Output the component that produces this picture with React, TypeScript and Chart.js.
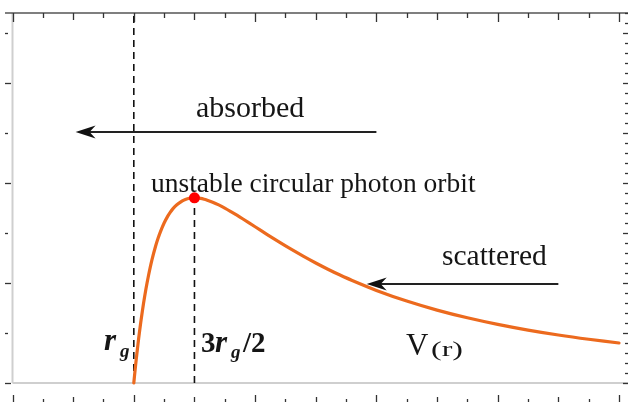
import { useEffect, useRef } from "react";
import { Chart, registerables } from "chart.js";

Chart.register(...registerables);

// r in units of r_g, V(r) in arbitrary units
const rValues = [1.0, 1.01, 1.02, 1.03, 1.04, 1.05, 1.06, 1.08, 1.1, 1.12, 1.15, 1.18, 1.2, 1.22, 1.25, 1.28, 1.3, 1.32, 1.35, 1.4, 1.42, 1.45, 1.48, 1.5, 1.52, 1.55, 1.58, 1.6, 1.65, 1.7, 1.75, 1.8, 1.85, 1.9, 2.0, 2.1, 2.2, 2.3, 2.4, 2.5, 2.6, 2.7, 2.8, 3.0, 3.25, 3.5, 3.75, 4.0, 4.25, 4.5, 4.75, 5.0];
const vValues = [0, 0.243, 0.471, 0.686, 0.889, 1.08, 1.259, 1.588, 1.878, 2.135, 2.466, 2.739, 2.894, 3.029, 3.2, 3.338, 3.414, 3.478, 3.556, 3.644, 3.667, 3.69, 3.702, 3.704, 3.702, 3.692, 3.676, 3.662, 3.617, 3.562, 3.499, 3.429, 3.356, 3.28, 3.125, 2.969, 2.817, 2.671, 2.532, 2.4, 2.276, 2.159, 2.05, 1.852, 1.639, 1.458, 1.304, 1.172, 1.058, 0.96, 0.875, 0.8];

const horizonR = 1.0;
const photonR = 1.5;
const photonV = 3.704;
const frameTopV = 7.4;

const absorbedArrow = { fromR: 3.0, toR: 0.52, v: 5.02 };
const scatteredArrow = { fromR: 4.5, toR: 2.92, v: 1.98 };

const xTickValues = [0, 0.25, 0.5, 0.75, 1, 1.25, 1.5, 1.75, 2, 2.25, 2.5, 2.75, 3, 3.25, 3.5, 3.75, 4, 4.25, 4.5, 4.75, 5];
const yTickValues = [0, 1, 2, 3, 4, 5, 6, 7];
const yFineTickValues = [0, 0.2, 0.4, 0.6, 0.8, 1, 1.2, 1.4, 1.6, 1.8, 2, 2.2, 2.4, 2.6, 2.8, 3, 3.2, 3.4, 3.6, 3.8, 4, 4.2, 4.4, 4.6, 4.8, 5, 5.2, 5.4, 5.6, 5.8, 6, 6.2, 6.4, 6.6, 6.8, 7, 7.2, 7.4];

const ORANGE = "#EC6A1E";
const SERIF = '"Liberation Serif", "Times New Roman", serif';

function drawArrow(ctx: CanvasRenderingContext2D, x1: number, y: number, x2: number) {
  ctx.save();
  ctx.strokeStyle = "#222";
  ctx.fillStyle = "#111";
  ctx.lineWidth = 1.8;
  ctx.beginPath();
  ctx.moveTo(x1, y);
  ctx.lineTo(x2 + 10, y);
  ctx.stroke();
  ctx.beginPath();
  ctx.moveTo(x2, y);
  ctx.lineTo(x2 + 20, y - 6.5);
  ctx.lineTo(x2 + 14, y);
  ctx.lineTo(x2 + 20, y + 6.5);
  ctx.closePath();
  ctx.fill();
  ctx.restore();
}

const framePlugin = {
  id: "frame",
  beforeDatasetsDraw(chart: any) {
    const ctx = chart.ctx as CanvasRenderingContext2D;
    const xs = chart.scales.x;
    const ys = chart.scales.y;
    const x0 = xs.getPixelForValue(0);
    const y0 = ys.getPixelForValue(0);
    const yTop = ys.getPixelForValue(frameTopV);
    ctx.save();
    ctx.strokeStyle = "#cfcfcf";
    ctx.lineWidth = 2;
    ctx.beginPath();
    ctx.moveTo(x0, yTop);
    ctx.lineTo(x0, y0);
    ctx.moveTo(x0, y0);
    ctx.lineTo(chart.width, y0);
    ctx.stroke();
    ctx.restore();
  },
  afterDatasetsDraw(chart: any) {
    const ctx = chart.ctx as CanvasRenderingContext2D;
    const xs = chart.scales.x;
    const ys = chart.scales.y;
    const yTop = ys.getPixelForValue(frameTopV);
    const W = chart.width;
    const bottomY = 404;

    ctx.save();
    ctx.strokeStyle = "#555";
    ctx.lineWidth = 1.5;
    ctx.beginPath();
    ctx.moveTo(5, yTop);
    ctx.lineTo(W, yTop);
    ctx.stroke();

    ctx.strokeStyle = "#333";
    ctx.lineWidth = 1.3;
    xTickValues.forEach((t) => {
      const px = Math.round(xs.getPixelForValue(t)) + 0.5;
      const len = Number.isInteger(t) ? 9 : Number.isInteger(t * 2) ? 7 : 5;
      ctx.beginPath();
      ctx.moveTo(px, yTop);
      ctx.lineTo(px, yTop + len);
      ctx.moveTo(px, bottomY);
      ctx.lineTo(px, bottomY - len);
      ctx.stroke();
    });
    yTickValues.forEach((t) => {
      const py = Math.round(ys.getPixelForValue(t)) + 0.5;
      const len = t % 2 === 0 ? 6 : 3;
      ctx.beginPath();
      ctx.moveTo(5, py);
      ctx.lineTo(5 + len, py);
      ctx.stroke();
    });
    yFineTickValues.forEach((t) => {
      const py = Math.round(ys.getPixelForValue(t)) + 0.5;
      const major = Math.abs(t - Math.round(t)) < 1e-6;
      ctx.beginPath();
      ctx.moveTo(W, py);
      ctx.lineTo(W - (major ? 5 : 3), py);
      ctx.stroke();
    });
    ctx.restore();

    drawArrow(ctx, xs.getPixelForValue(absorbedArrow.fromR), ys.getPixelForValue(absorbedArrow.v), xs.getPixelForValue(absorbedArrow.toR));
    drawArrow(ctx, xs.getPixelForValue(scatteredArrow.fromR), ys.getPixelForValue(scatteredArrow.v), xs.getPixelForValue(scatteredArrow.toR));

    ctx.save();
    ctx.fillStyle = "#151515";
    ctx.textBaseline = "alphabetic";
    ctx.textAlign = "left";
    ctx.font = `30px ${SERIF}`;
    ctx.fillText("absorbed", 196, 117);
    ctx.font = `29.5px ${SERIF}`;
    ctx.fillText("scattered", 442, 265);
    ctx.font = `27.5px ${SERIF}`;
    ctx.fillText("unstable circular photon orbit", 151, 192);

    ctx.font = `31px ${SERIF}`;
    ctx.fillText("V", 406, 355);
    ctx.save();
    ctx.translate(431, 356);
    ctx.scale(1.6, 1);
    ctx.font = `20px ${SERIF}`;
    ctx.fillText("(r)", 0, 0);
    ctx.restore();

    ctx.font = `bold italic 31px ${SERIF}`;
    ctx.fillText("r", 104, 350);
    ctx.font = `bold italic 19px ${SERIF}`;
    ctx.fillText("g", 120, 357);

    ctx.font = `bold 29px ${SERIF}`;
    ctx.fillText("3", 201, 352);
    ctx.font = `bold italic 31px ${SERIF}`;
    ctx.fillText("r", 215, 352);
    ctx.font = `bold italic 19px ${SERIF}`;
    ctx.fillText("g", 231, 358);
    ctx.font = `bold 29px ${SERIF}`;
    ctx.fillText("/2", 243, 352);
    ctx.restore();
  },
};

export default function App() {
  const ref = useRef<HTMLCanvasElement | null>(null);

  useEffect(() => {
    document.body.style.margin = "0";
    const canvas = ref.current;
    if (!canvas) return;

    const curve = rValues.map((r, i) => ({ x: r, y: vValues[i] }));

    const chart = new Chart(canvas, {
      type: "line",
      data: {
        datasets: [
          {
            data: [{ x: photonR, y: photonV }],
            showLine: false,
            pointRadius: 5.5,
            pointBackgroundColor: "#ff0000",
            pointBorderWidth: 0,
            order: 0,
          },
          {
            data: curve,
            borderColor: ORANGE,
            borderWidth: 3.2,
            pointRadius: 0,
            tension: 0.3,
            borderJoinStyle: "round",
            borderCapStyle: "round",
            fill: false,
            order: 1,
          },
          {
            data: [{ x: horizonR, y: 0 }, { x: horizonR, y: frameTopV }],
            borderColor: "#111",
            borderWidth: 1.6,
            borderDash: [7, 5],
            pointRadius: 0,
            order: 2,
          },
          {
            data: [{ x: photonR, y: 0 }, { x: photonR, y: photonV }],
            borderColor: "#111",
            borderWidth: 1.6,
            borderDash: [7, 5],
            pointRadius: 0,
            order: 2,
          },
        ],
      },
      options: {
        responsive: false,
        animation: false,
        devicePixelRatio: 1,
        events: [],
        layout: { padding: 0, autoPadding: false },
        plugins: { legend: { display: false }, tooltip: { enabled: false } },
        scales: {
          x: { type: "linear", min: -0.1031, max: 5.0742, display: false },
          y: { type: "linear", min: -0.38, max: 7.66, display: false },
        },
      },
      plugins: [framePlugin],
    });

    return () => chart.destroy();
  }, []);

  return <canvas ref={ref} width={628} height={402} style={{ display: "block" }} />;
}
